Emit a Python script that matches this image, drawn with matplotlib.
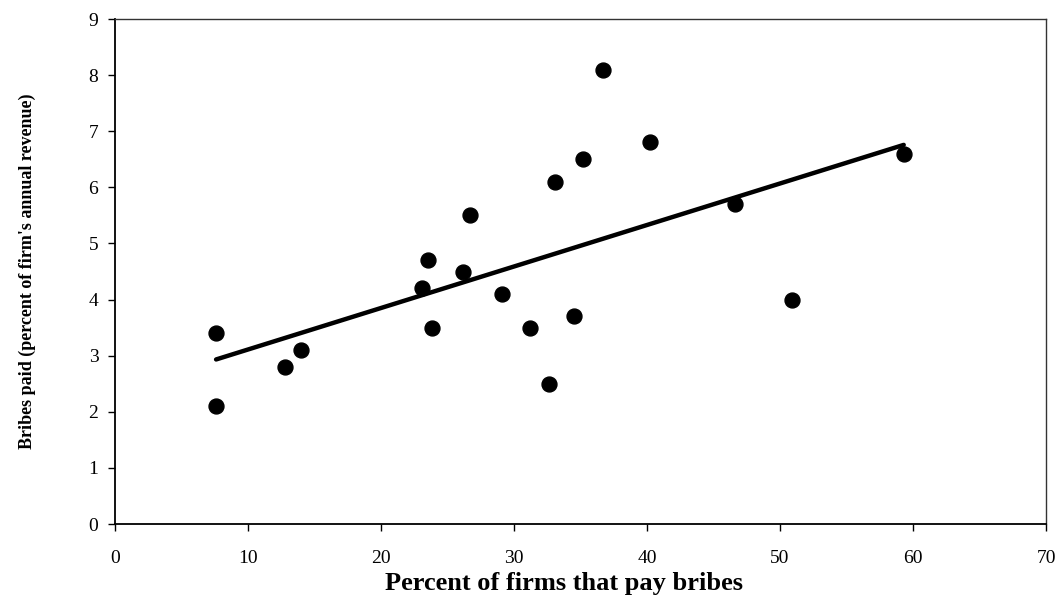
import numpy as np
import matplotlib.pyplot as plt

# share of firms paying bribes (%) and bribes paid (% of annual revenue)
pct_firms = [7.6, 7.6, 12.8, 14.0, 36.7, 40.2, 35.2, 33.1, 26.7, 46.6,
             23.5, 26.2, 23.1, 29.1, 23.8, 31.2, 34.5, 32.6, 50.9, 59.3]
bribes_paid = [2.1, 3.4, 2.8, 3.1, 8.1, 6.8, 6.5, 6.1, 5.5, 5.7,
               4.7, 4.5, 4.2, 4.1, 3.5, 3.5, 3.7, 2.5, 4.0, 6.6]

x_ticks = [0, 10, 20, 30, 40, 50, 60, 70]
y_ticks = [0, 1, 2, 3, 4, 5, 6, 7, 8, 9]

plt.rcParams['font.family'] = ['Liberation Serif', 'DejaVu Serif']

fig = plt.figure(figsize=(10.58, 5.98), dpi=100)
ax = fig.add_axes([0.1087, 0.1237, 0.88, 0.8445])

x = np.array(pct_firms)
y = np.array(bribes_paid)
slope, intercept = np.polyfit(x, y, 1)
xs = np.array([x.min(), x.max()])
ax.plot(xs, intercept + slope * xs, color='black', lw=3.2, solid_capstyle='round', zorder=2)
ax.scatter(x, y, s=115, color='black', zorder=3)

ax.set_xlim(0, 70)
ax.set_ylim(0, 9)
ax.set_xticks(x_ticks)
ax.set_yticks(y_ticks)
ax.tick_params(direction='out', length=5, width=1, labelsize=14)
ax.tick_params(axis='x', pad=14)
ax.tick_params(axis='y', pad=7)
for s in ['left', 'bottom']:
    ax.spines[s].set_linewidth(1.3)
for s in ['top', 'right']:
    ax.spines[s].set_linewidth(1.0)
    ax.spines[s].set_color('#333333')

ax.set_xlabel('Percent of firms that pay bribes', fontsize=19, fontweight='bold', labelpad=3)
ax.xaxis.set_label_coords(0.482, -0.095)
ax.set_ylabel("Bribes paid (percent of firm's annual revenue)", fontsize=13, fontweight='bold', labelpad=38)

fig.savefig('out.png', dpi=100)
